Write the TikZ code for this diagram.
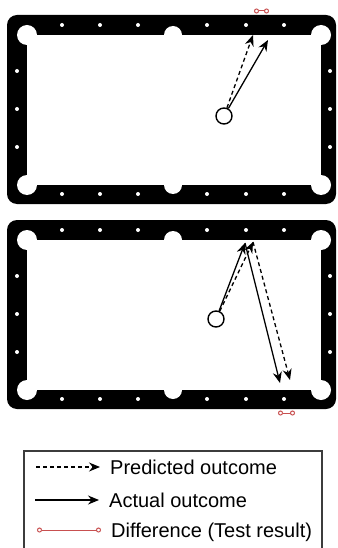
\documentclass[tikz,border=0pt]{standalone}
\usepackage{fontspec}
\setmainfont{Liberation Sans}
\usetikzlibrary{arrows.meta,positioning}
\definecolor{diffred}{RGB}{200,80,80}
\definecolor{legendgray}{RGB}{60,60,60}

\begin{document}
\begin{tikzpicture}[x=1pt, y=-1pt, >={Stealth[length=11pt,width=9pt]}]
    \tikzstyle{rail} = [fill=black, rounded corners=10pt]
    \tikzstyle{felt} = [fill=white]
    \tikzstyle{ball} = [circle, draw=black, line width=1.4pt, fill=white, minimum size=16pt, inner sep=0pt]
    \tikzstyle{predicted} = [draw, ->, line width=1.3pt, dash pattern=on 4pt off 3pt]
    \tikzstyle{actual} = [draw, ->, line width=1.3pt]
    \tikzstyle{diff} = [draw=diffred, line width=1pt, {Circle[open,length=5pt]}-{Circle[open,length=5pt]}]
    \tikzstyle{legtext} = [anchor=west, inner xsep=10pt, inner ysep=0pt, text height=14pt, text depth=0pt, font=\fontsize{20}{22}\selectfont]

    \useasboundingbox (0,0) rectangle (337,548);

    \foreach \ty in {0,205} {
        \fill[rail] (7,15+\ty) rectangle (336,204+\ty);
        \fill[felt] (27,35+\ty) rectangle (321,185+\ty);
        \foreach \px/\pr in {27/10,173/9,321/10} {
            \fill[felt] (\px,35+\ty) circle (\pr pt);
            \fill[felt] (\px,185+\ty) circle (\pr pt);
        }
        \foreach \dx in {62,100,138,207,246,284} {
            \fill[felt] (\dx,25+\ty) circle (2pt);
            \fill[felt] (\dx,194+\ty) circle (2pt);
        }
        \foreach \dy in {71,109,147} {
            \fill[felt] (17,\dy+\ty) circle (2pt);
            \fill[felt] (330,\dy+\ty) circle (2pt);
        }
    }

    \node [ball] (cue1) at (224,116) {};
    \coordinate (pred1) at (253,35);
    \coordinate (act1) at (268,40);
    \coordinate (diffl1) at (254,11);
    \coordinate (diffr1) at (269,11);
    \path [predicted] (cue1) -- (pred1);
    \path [actual] (cue1) -- (act1);
    \path [diff] (diffl1) -- (diffr1);

    \node [ball] (cue2) at (216,319) {};
    \coordinate (predbank) at (253,242);
    \coordinate (predend) at (290,380);
    \coordinate (actbank) at (245,243);
    \coordinate (actend) at (280,383);
    \coordinate (diffl2) at (278,413);
    \coordinate (diffr2) at (295,413);
    \path [predicted] (cue2) -- (predbank);
    \path [predicted] (predbank) -- (predend);
    \path [actual] (cue2) -- (actbank);
    \path [actual] (actbank) -- (actend);
    \path [diff] (diffl2) -- (diffr2);

    \draw [legendgray, line width=1.2pt] (24,548) -- (24,451) -- (322,451) -- (322,548);
    \node [legtext] (predtxt) at (100,467) {Predicted outcome};
    \node [legtext] (acttxt) at (99,500) {Actual outcome};
    \node [legtext] (difftxt) at (101,530) {Difference (Test result)};
    \coordinate (predkey) at (36,467);
    \coordinate (actkey) at (35,500);
    \coordinate (diffkey) at (37,530);
    \path [predicted] (predkey) -- (predtxt.west);
    \path [actual] (actkey) -- (acttxt.west);
    \path [diff] (diffkey) -- (difftxt.west);
\end{tikzpicture}
\end{document}
